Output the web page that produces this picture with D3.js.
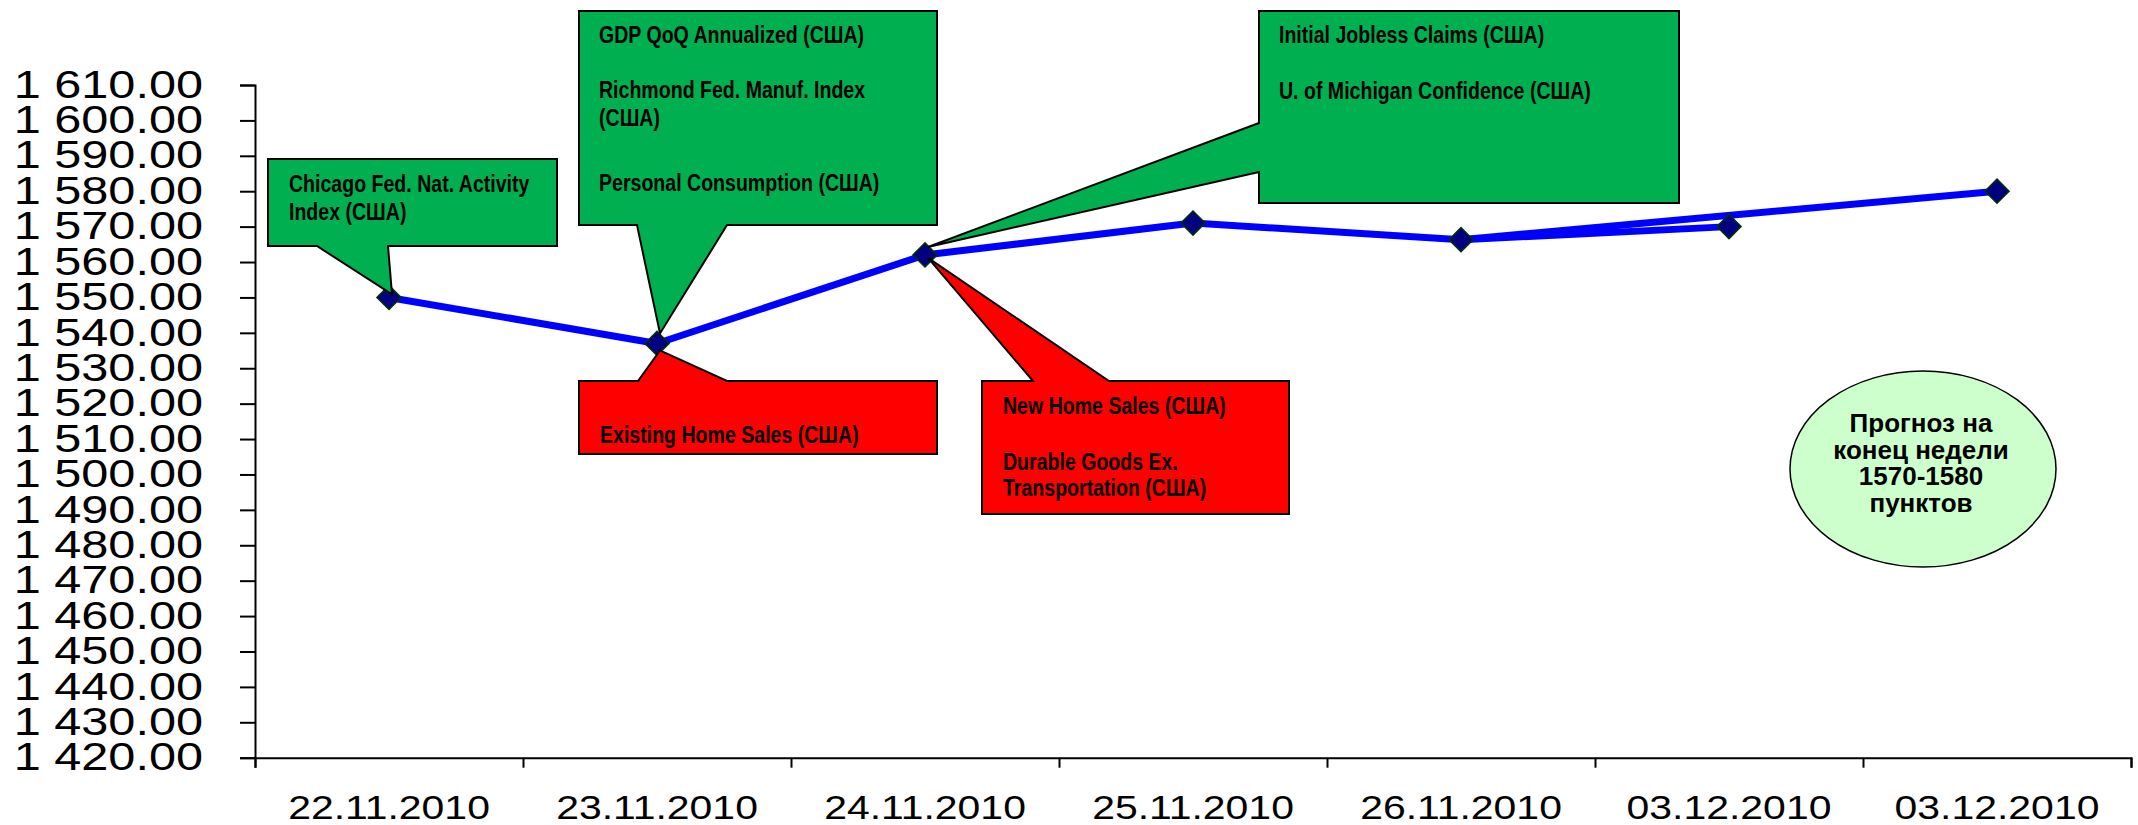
<!DOCTYPE html>
<html>
<head>
<meta charset="utf-8">
<script src="https://cdn.jsdelivr.net/npm/d3@7"></script>
<style>
  body { margin: 0; background: #fff; }
  .callout text { font-family: "Liberation Sans", Arial, sans-serif; font-weight: bold; font-size: 23px; }
</style>
</head>
<body>
<div id="chart"></div>
<script>
// data
var dates = ['22.11.2010', '23.11.2010', '24.11.2010', '25.11.2010', '26.11.2010', '03.12.2010', '03.12.2010'];
var values = [1550, 1537, 1562, 1571, 1566.3, 1570, 1580];
// which points are joined: the fact line and the forecast line
var factIdx = [0, 1, 2, 3, 4, 5];
var forecastIdx = [4, 6];
var yTicks = [1420, 1430, 1440, 1450, 1460, 1470, 1480, 1490, 1500, 1510, 1520,
              1530, 1540, 1550, 1560, 1570, 1580, 1590, 1600, 1610];

var greenNotes = [
  ['Chicago Fed. Nat. Activity', 'Index (США)'],
  ['GDP QoQ Annualized (США)', 'Richmond Fed. Manuf. Index', '(США)', 'Personal Consumption (США)'],
  ['Initial Jobless Claims (США)', 'U. of Michigan Confidence (США)']
];
var redNotes = [
  ['Existing Home Sales (США)'],
  ['New Home Sales (США)', 'Durable Goods Ex.', 'Transportation (США)']
];
var forecastText = ['Прогноз на', 'конец недели', '1570-1580', 'пунктов'];

var width = 2138,
    height = 825;
var margin = {top: 85, left: 255, right: 7, bottom: 67};

var svg = d3.select('#chart').append('svg')
  .attr('width', width)
  .attr('height', height);

// scales
var xScale = d3.scaleBand()
  .domain(d3.range(dates.length))
  .range([margin.left, width - margin.right])
  .padding(0);

var xEdge = d3.scaleLinear()
  .domain([0, dates.length])
  .range([margin.left, width - margin.right]);

var yScale = d3.scaleLinear()
  .domain([1420, 1610])
  .range([height - margin.bottom - 0.3, margin.top]);

var fmt = d3.formatLocale({decimal: '.', thousands: ' ', grouping: [3], currency: ['', '']}).format(',.2f');

function cx(i) { return xScale(i) + xScale.bandwidth() / 2; }
function cy(i) { return yScale(values[i]); }

// stretch or squeeze text sideways, the original is scaled that way
function widen(k) {
  return function() {
    var w = this.getComputedTextLength();
    this.setAttribute('textLength', w * k);
    this.setAttribute('lengthAdjust', 'spacingAndGlyphs');
  };
}

// y axis
var yAxis = d3.axisLeft(yScale)
  .tickValues(yTicks)
  .tickFormat(fmt)
  .tickSize(15)
  .tickPadding(37);

var gy = svg.append('g')
  .attr('transform', 'translate(' + margin.left + ',0)')
  .call(yAxis);
gy.selectAll('line, path').attr('stroke', '#000').attr('stroke-width', 2);
gy.selectAll('text')
  .attr('fill', '#000')
  .style('font-family', '"Liberation Sans", Arial, sans-serif')
  .style('font-size', '38px')
  .each(widen(1.28));

// x axis: ticks on the category edges, labels in the middle
var x0 = yScale(1420);
var gxTicks = svg.append('g')
  .attr('transform', 'translate(0,' + x0 + ')')
  .call(d3.axisBottom(xEdge).tickValues(d3.range(dates.length + 1)).tickFormat('').tickSize(10).tickSizeOuter(10));
gxTicks.selectAll('line, path').attr('stroke', '#000').attr('stroke-width', 2);

var gxLabels = svg.append('g')
  .attr('transform', 'translate(0,' + x0 + ')')
  .call(d3.axisBottom(xScale).tickFormat(function(i) { return dates[i]; }).tickSize(0).tickPadding(38));
gxLabels.select('.domain').remove();
gxLabels.selectAll('text')
  .attr('fill', '#000')
  .style('font-family', '"Liberation Sans", Arial, sans-serif')
  .style('font-size', '33px')
  .each(widen(1.24));

// lines
var line = d3.line()
  .x(function(i) { return cx(i); })
  .y(function(i) { return cy(i); });

[factIdx, forecastIdx].forEach(function(idx) {
  svg.append('path')
    .attr('d', line(idx))
    .attr('fill', 'none')
    .attr('stroke', '#0000ff')
    .attr('stroke-width', 7)
    .attr('stroke-linejoin', 'round');
});

// markers
svg.selectAll('.marker')
  .data(d3.range(values.length))
  .enter()
  .append('path')
  .attr('class', 'marker')
  .attr('d', d3.symbol(d3.symbolSquare, 290))
  .attr('transform', function(i) {
    return 'translate(' + cx(i) + ',' + cy(i) + ') rotate(45)';
  })
  .attr('fill', '#000080')
  .attr('stroke', '#003300')
  .attr('stroke-width', 1.5);

// callouts: box plus a wedge pointing at a point
// side: where the wedge leaves the box, a/b: wedge base, pt: point index
var calloutLayout = [
  {fill: '#00b050', lines: greenNotes[0], box: [268, 159, 557, 246], side: 'bottom', a: 317, b: 388, pt: 0, dx: 3, dy: -3,
   tx: 289, ty: [192, 220]},
  {fill: '#00b050', lines: greenNotes[1], box: [579, 11, 937, 225], side: 'bottom', a: 637, b: 727, pt: 1, dx: 3, dy: -10,
   tx: 599, ty: [43, 98, 126, 191]},
  {fill: '#00b050', lines: greenNotes[2], box: [1259, 11, 1679, 203], side: 'left', a: 123, b: 172, pt: 2, dx: 3, dy: -8,
   tx: 1279, ty: [43, 99]},
  {fill: '#ff0000', lines: redNotes[0], box: [579, 381, 937, 454], side: 'top', a: 638, b: 727, pt: 1, dx: 3, dy: 7,
   tx: 600, ty: [443]},
  {fill: '#ff0000', lines: redNotes[1], box: [982, 381, 1289, 514], side: 'top', a: 1033, b: 1109, pt: 2, dx: 3, dy: 3,
   tx: 1003, ty: [414, 470, 496]}
];

function calloutPoints(c) {
  var x1 = c.box[0], y1 = c.box[1], x2 = c.box[2], y2 = c.box[3];
  var tip = [cx(c.pt) + c.dx, cy(c.pt) + c.dy];
  if (c.side === 'bottom') {
    return [[x1, y1], [x2, y1], [x2, y2], [c.b, y2], tip, [c.a, y2], [x1, y2]];
  } else if (c.side === 'top') {
    return [[x1, y1], [c.a, y1], tip, [c.b, y1], [x2, y1], [x2, y2], [x1, y2]];
  }
  return [[x1, y1], [x2, y1], [x2, y2], [x1, y2], [x1, c.b], tip, [x1, c.a]];
}

var callouts = svg.selectAll('.callout')
  .data(calloutLayout)
  .enter()
  .append('g')
  .attr('class', 'callout');

callouts.append('polygon')
  .attr('points', function(c) { return calloutPoints(c).join(' '); })
  .attr('fill', function(c) { return c.fill; })
  .attr('stroke', '#000')
  .attr('stroke-width', 2)
  .attr('stroke-linejoin', 'miter');

callouts.each(function(c) {
  d3.select(this).selectAll('text')
    .data(c.lines)
    .enter()
    .append('text')
    .attr('x', c.tx)
    .attr('y', function(d, i) { return c.ty[i]; })
    .attr('fill', '#000')
    .text(function(d) { return d; })
    .each(widen(0.85));
});

// forecast ellipse
var ell = svg.append('g');
ell.append('ellipse')
  .attr('cx', 1923)
  .attr('cy', 469)
  .attr('rx', 133)
  .attr('ry', 98)
  .attr('fill', '#ccffcc')
  .attr('stroke', '#000')
  .attr('stroke-width', 1.5);

ell.selectAll('text')
  .data(forecastText)
  .enter()
  .append('text')
  .attr('x', 1921)
  .attr('y', function(d, i) { return 432 + i * 26.5; })
  .attr('text-anchor', 'middle')
  .style('font-family', '"Liberation Sans", Arial, sans-serif')
  .style('font-weight', 'bold')
  .style('font-size', '26px')
  .text(function(d) { return d; });
</script>
</body>
</html>
